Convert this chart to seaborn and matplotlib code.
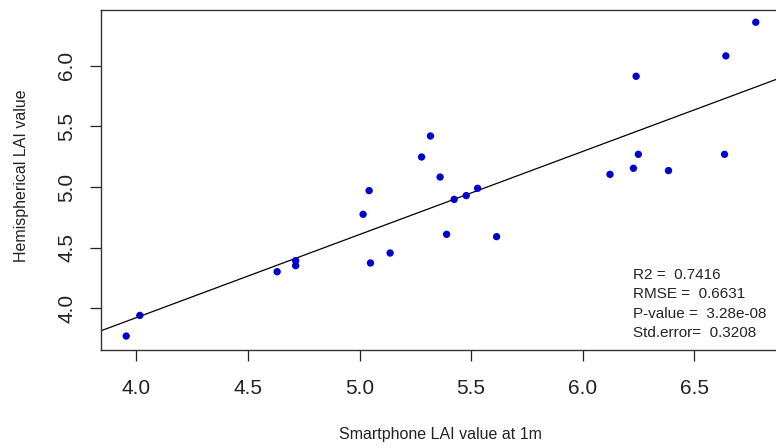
import matplotlib
matplotlib.use("Agg")
import matplotlib.pyplot as plt
import seaborn as sns
import numpy as np
import pandas as pd

smartphone_lai = [3.955, 4.016, 4.631, 4.714, 4.714, 5.016, 5.043, 5.049, 5.137,
                  5.278, 5.318, 5.361, 5.390, 5.424, 5.478, 5.529, 5.614, 6.122,
                  6.227, 6.239, 6.249, 6.384, 6.635, 6.641, 6.775]
hemispherical_lai = [3.772, 3.942, 4.302, 4.393, 4.352, 4.775, 4.970, 4.374, 4.456,
                     5.247, 5.420, 5.082, 4.610, 4.898, 4.929, 4.989, 4.591, 5.104,
                     5.154, 5.912, 5.269, 5.135, 5.269, 6.080, 6.357]
x_ticks = [4.0, 4.5, 5.0, 5.5, 6.0, 6.5]
y_ticks = [4.0, 4.5, 5.0, 5.5, 6.0]
stats_lines = ["R2 =  0.7416", "RMSE =  0.6631", "P-value =  3.28e-08", "Std.error=  0.3208"]

df = pd.DataFrame({"x": smartphone_lai, "y": hemispherical_lai})

sns.set_style("white")
plt.rcParams["font.family"] = ["Liberation Sans", "DejaVu Sans"]

fig = plt.figure(figsize=(7.76, 4.48), dpi=100)
ax = fig.add_axes([101 / 776, 98 / 448, 680 / 776, 340 / 448])
ax.set_xlim(3.842, 6.888)
ax.set_ylim(3.657, 6.458)

sns.regplot(data=df, x="x", y="y", ax=ax, scatter=False, ci=None, truncate=False,
            line_kws={"color": "black", "linewidth": 0.9})
sns.scatterplot(data=df, x="x", y="y", ax=ax, color="#0000CD", s=28,
                edgecolor="none", zorder=3)
ax.set_xlim(3.842, 6.888)
ax.set_ylim(3.657, 6.458)

ax.set_xticks(x_ticks)
ax.set_xticklabels([f"{v:.1f}" for v in x_ticks])
ax.set_yticks(y_ticks)
ax.set_yticklabels([f"{v:.1f}" for v in y_ticks])
ax.tick_params(axis="both", direction="out", length=8, width=0.9, color="#222222",
               labelsize=15, labelcolor="#222222", bottom=True, left=True)
ax.tick_params(axis="x", pad=13)
ax.tick_params(axis="y", pad=10, labelrotation=90)
for lab in ax.get_yticklabels():
    lab.set_va("center")
for sp in ax.spines.values():
    sp.set_color("#333333")
    sp.set_linewidth(1.0)
ax.set_xlabel("")
ax.set_ylabel("")

fig.text(440 / 776, 1 - 434 / 448, "Smartphone LAI value at 1m", ha="center", va="center",
         fontsize=11.5, color="#222222")
fig.text(22 / 776, 1 - 176 / 448, "Hemispherical LAI value", ha="center", va="center",
         rotation=90, fontsize=11.5, color="#222222")

for i, line in enumerate(stats_lines):
    fig.text(633 / 776, 1 - (275 + 19.3 * i) / 448, line, ha="left", va="center",
             fontsize=11, color="#222222")

fig.savefig("out.png", dpi=100)
